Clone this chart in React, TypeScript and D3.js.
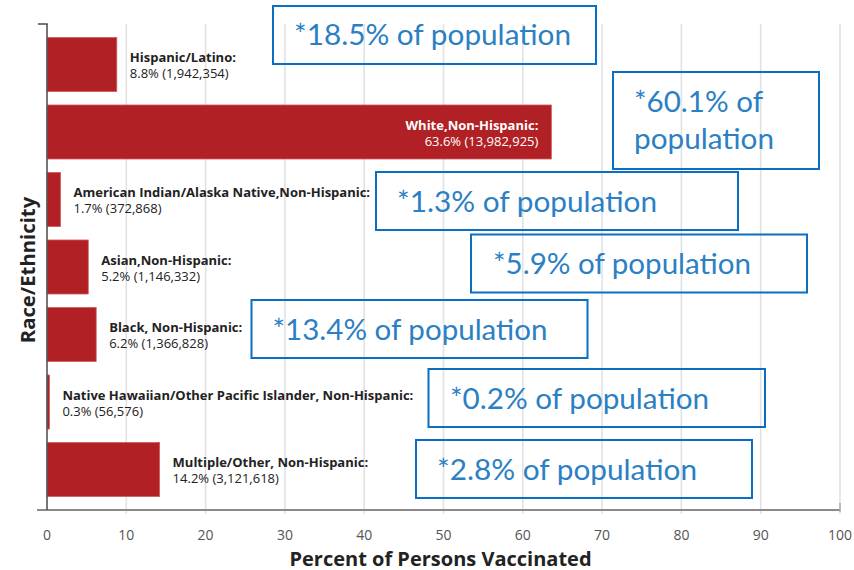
import React from "react";
import * as d3 from "d3";

const categories = [
  "Hispanic/Latino:",
  "White,Non-Hispanic:",
  "American Indian/Alaska Native,Non-Hispanic:",
  "Asian,Non-Hispanic:",
  "Black, Non-Hispanic:",
  "Native Hawaiian/Other Pacific Islander, Non-Hispanic:",
  "Multiple/Other, Non-Hispanic:",
];
const percents = [8.8, 63.6, 1.7, 5.2, 6.2, 0.3, 14.2];
const counts = ["1,942,354", "13,982,925", "372,868", "1,146,332", "1,366,828", "56,576", "3,121,618"];
const populationShares = ["18.5", "60.1", "1.3", "5.9", "13.4", "0.2", "2.8"];
const xTicks = [0, 10, 20, 30, 40, 50, 60, 70, 80, 90, 100];

// annotation box layout (pixels), one per category
const calloutLayout = [
  { x: 273, y: 6, w: 323, h: 58, tx: 294, ty: 45, tw: 277, split: false },
  { x: 613, y: 72, w: 206, h: 97, tx: 634, ty: 112, tw: 129, split: true },
  { x: 376, y: 172, w: 362, h: 58, tx: 397, ty: 211.5, tw: 260, split: false },
  { x: 471, y: 234.5, w: 336, h: 58, tx: 493, ty: 273.5, tw: 258, split: false },
  { x: 251.5, y: 300, w: 336, h: 58, tx: 272.5, ty: 340, tw: 275, split: false },
  { x: 428.5, y: 369, w: 336.5, h: 58, tx: 450, ty: 408.5, tw: 259, split: false },
  { x: 416, y: 440, w: 336, h: 58, tx: 437, ty: 480, tw: 260, split: false },
];

const W = 854;
const H = 570;

export default function App() {
  const x = d3.scaleLinear().domain([0, 100]).range([47, 840]);
  const y = d3
    .scaleBand<string>()
    .domain(categories)
    .range([24, 510])
    .paddingInner(0.2)
    .paddingOuter(0.2);
  const labelFont = "'Open Sans', sans-serif";
  const boxFont = "Lato, 'Open Sans', sans-serif";
  const blue = "#2b80c4";
  const boxStroke = "#0a6fc2";

  return (
    <svg
      width={W}
      height={H}
      style={{ position: "absolute", left: 0, top: 0, background: "#fff" }}
    >
      {/* gridlines */}
      {xTicks.slice(1).map((t) => (
        <line key={t} x1={x(t)} x2={x(t)} y1={24} y2={514} stroke="#e2e2e2" strokeWidth={1.6} />
      ))}
      {/* bars */}
      {categories.map((c, i) => (
        <rect
          key={c}
          x={x(0)}
          y={y(c)!}
          width={x(percents[i]) - x(0)}
          height={y.bandwidth()}
          fill="#b02024"
          stroke="#cf5a5c"
          strokeWidth={0.8}
        />
      ))}
      {/* axes */}
      <line x1={37} x2={840} y1={510} y2={510} stroke="#8a8a8a" strokeWidth={2} />
      <line x1={840} x2={840} y1={503} y2={512} stroke="#aaa" strokeWidth={1.5} />
      <line x1={47} x2={47} y1={24} y2={510} stroke="#555" strokeWidth={1.6} />
      <line x1={38} x2={47.8} y1={24} y2={24} stroke="#555" strokeWidth={1.6} />
      {xTicks.map((t) => (
        <text
          key={t}
          x={x(t)}
          y={540}
          textAnchor="middle"
          fontFamily={labelFont}
          fontSize={14}
          fill="#555"
        >
          {t}
        </text>
      ))}
      <text
        x={(x(0) + x(100)) / 2 - 3}
        y={565.5}
        textAnchor="middle"
        fontFamily={labelFont}
        fontWeight={700}
        fontSize={20}
        fill="#222"
      >
        Percent of Persons Vaccinated
      </text>
      <text
        transform={`translate(35,270) rotate(-90)`}
        textAnchor="middle"
        fontFamily={labelFont}
        fontWeight={700}
        fontSize={20.3}
        fill="#222"
      >
        Race/Ethnicity
      </text>
      {/* bar labels */}
      {categories.map((c, i) => {
        const cy = y(c)! + y.bandwidth() / 2;
        const inside = percents[i] > 50;
        const lx = inside ? x(percents[i]) - 13 : x(percents[i]) + 13;
        return (
          <g key={c} fontFamily={labelFont} fontSize={13} fill={inside ? "#fff" : "#222"} textAnchor={inside ? "end" : "start"}>
            <text x={lx} y={cy - 2.5} fontWeight={700}>
              {c}
            </text>
            <text x={lx} y={cy + 13.5}>
              {`${percents[i]}% (${counts[i]})`}
            </text>
          </g>
        );
      })}
      {/* population callouts */}
      {calloutLayout.map((b, i) => (
        <g key={i}>
          <rect x={b.x} y={b.y} width={b.w} height={b.h} fill="none" stroke={boxStroke} strokeWidth={2} />
          {b.split ? (
            <>
              <text x={b.tx} y={b.ty} fontFamily={boxFont} fontSize={29} fill={blue} textLength={b.tw} lengthAdjust="spacingAndGlyphs">
                {`*${populationShares[i]}% of`}
              </text>
              <text x={b.tx} y={b.ty + 37} fontFamily={boxFont} fontSize={29} fill={blue} textLength={140} lengthAdjust="spacingAndGlyphs">
                population
              </text>
            </>
          ) : (
            <text x={b.tx} y={b.ty} fontFamily={boxFont} fontSize={29} fill={blue} textLength={b.tw} lengthAdjust="spacingAndGlyphs">
              {`*${populationShares[i]}% of population`}
            </text>
          )}
        </g>
      ))}
    </svg>
  );
}
